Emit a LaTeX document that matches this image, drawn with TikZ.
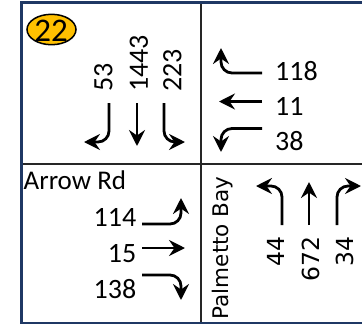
\documentclass[tikz,border=0pt]{standalone}
\usepackage{fontspec}
\setmainfont{Carlito}
\newfontfamily\dejavu{DejaVu Sans}
\usetikzlibrary{arrows.meta,shapes.geometric}
\definecolor{navy}{HTML}{1F3864}
\definecolor{gold}{HTML}{FFC000}
\tikzset{
  mvarrow/.style={line width=2.8pt, rounded corners=11pt, -{Stealth[length=16pt,width=16pt,inset=5.5pt]}},
  cnum/.style={inner sep=0pt, font=\fontsize{28}{32}\selectfont},
  dnum/.style={inner sep=0pt, font=\dejavu\fontsize{23.5}{27}\selectfont},
  divider/.style={line width=1.4pt, black!85},
}
\begin{document}
\begin{tikzpicture}[x=1pt,y=-1pt]
\useasboundingbox (0,0) rectangle (362,325);
\clip (0,0) rectangle (362,325);
\fill[white] (0,0) rectangle (362,325);
% dividers
\draw[divider] (201,2.5) -- (201,323);
\draw[divider] (21,164) -- (370,164);
% outer border
\draw[navy, line width=2.8pt] (21.3,2.5) rectangle (380,323);
% badge
\draw[fill=gold, line width=1.5pt] (51.5,29.5) ellipse [x radius=24.5, y radius=15.2];
\node[inner sep=0pt, font=\fontsize{33}{36}\selectfont] (badgetxt) at (51,31) {22};
% top-left: southbound
\node[cnum, rotate=90, anchor=west] (sl) at (103.5,92) {53};
\node[cnum, rotate=90, anchor=west] (st) at (139,92) {1443};
\node[cnum, rotate=90, anchor=west] (sr) at (172.5,92) {223};
\draw[mvarrow] (109,103) -- (109,142) -- (84,142);
\draw[mvarrow] (137,103) -- (137,146);
\draw[mvarrow] (164,103) -- (164,142) -- (185,142);
% top-right: westbound
\node[cnum, anchor=west] (wr) at (275,71) {118};
\node[cnum, anchor=west] (wt) at (275,106) {11};
\node[cnum, anchor=west] (wl) at (275,141) {38};
\draw[mvarrow] (262,73) -- (221,73) -- (221,48);
\draw[mvarrow] (262,101.5) -- (219,101.5);
\draw[mvarrow] (262,128.5) -- (221,128.5) -- (221,152);
% bottom-left: eastbound
\node[inner sep=0pt, anchor=base west, font=\fontsize{27}{32}\selectfont] (arrowrd) at (23.5,189) {Arrow Rd};
\node[cnum, anchor=east] (el) at (136.5,217.5) {114};
\node[cnum, anchor=east] (et) at (136.5,253.5) {15};
\node[cnum, anchor=east] (er) at (136.5,289.5) {138};
\draw[mvarrow] (142,224) -- (181,224) -- (181,198);
\draw[mvarrow] (142,248) -- (185,248);
\draw[mvarrow] (142,275) -- (181,275) -- (181,300);
% bottom-right: northbound
\node[inner sep=0pt, rotate=90, anchor=base west, font=\dejavu\fontsize{21.5}{26}\selectfont] (palm) at (228.5,319.5) {Palmetto Bay};
\node[dnum, rotate=90, anchor=east] (nl) at (275.5,236) {44};
\node[dnum, rotate=90, anchor=east] (nt) at (311,236) {672};
\node[dnum, rotate=90, anchor=east] (nr) at (345,236) {34};
\draw[mvarrow] (282,225) -- (282,186) -- (256,186);
\draw[mvarrow] (309,225) -- (309,182);
\draw[mvarrow] (337,225) -- (337,186) -- (361,186);
\end{tikzpicture}
\end{document}
